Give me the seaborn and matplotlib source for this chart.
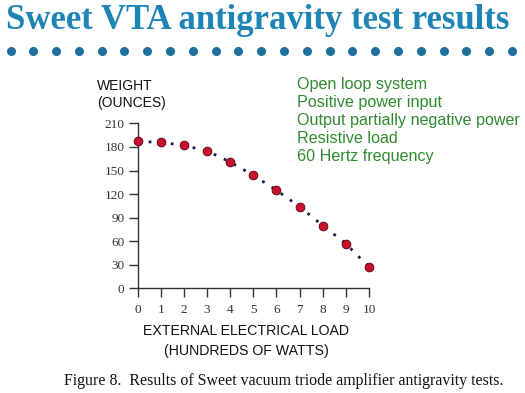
import numpy as np
import pandas as pd
import matplotlib
matplotlib.use('Agg')
import matplotlib.pyplot as plt
import seaborn as sns

# values
load = [0, 1, 2, 3, 4, 5, 6, 7, 8, 9, 10]          # hundreds of watts
weight = [187, 186, 182, 175, 161, 144, 125, 104, 80, 57, 27]  # ounces
y_ticks = [0, 30, 60, 90, 120, 150, 180, 210]
notes = ['Open loop system', 'Positive power input', 'Output partially negative power',
         'Resistive load', '60 Hertz frequency']

df = pd.DataFrame({'load': load, 'weight': weight})

sns.set_style('white')
plt.rcParams['font.family'] = ['Liberation Sans', 'DejaVu Sans']

fig = plt.figure(figsize=(5.25, 3.93), dpi=100)
ax = fig.add_axes([0.262, 0.266, 0.441, 0.42])

# dotted curve plus red markers
sns.lineplot(data=df, x='load', y='weight', ax=ax, color='#1b1b55',
             linestyle=(0, (1, 3)), linewidth=2.0, clip_on=False)
sns.scatterplot(data=df, x='load', y='weight', ax=ax, color='#c8102e',
                edgecolor='#5a0010', linewidth=0.6, s=40, zorder=5, clip_on=False)

ax.set_xlim(0, 10)
ax.set_ylim(0, 210)
ax.set_xticks(load)
ax.set_yticks(y_ticks)
for s in ['top', 'right']:
    ax.spines[s].set_visible(False)
for s in ['left', 'bottom']:
    ax.spines[s].set_color('#333333')
    ax.spines[s].set_linewidth(1.0)
ax.tick_params(axis='both', direction='out', length=6.5, width=1, color='#333333',
               labelsize=9.5, labelcolor='#333333', bottom=True, left=True)
ax.tick_params(axis='x', pad=5)
ax.tick_params(axis='y', pad=3)
for lab in ax.get_xticklabels() + ax.get_yticklabels():
    lab.set_family('Liberation Serif')
ax.set_xlabel('')
ax.set_ylabel('')

# axis labels as free text, like the slide
fig.text(0.185, 0.72, 'WEIGHT\n(OUNCES)', fontsize=10, color='#111111',
         ha='left', va='bottom', linespacing=1.3)
fig.text(0.469, 0.09, 'EXTERNAL ELECTRICAL LOAD\n(HUNDREDS OF WATTS)', fontsize=10.2,
         color='#111111', ha='center', va='bottom', linespacing=1.55)

# green notes
for i, n in enumerate(notes):
    fig.text(0.565, 0.785 - i * 0.0458, n, fontsize=11.6, color='#2e8b2e',
             ha='left', va='center')

# title and dotted rule
fig.text(0.49, 0.926, 'Sweet VTA antigravity test results', fontsize=25,
         fontweight='bold', family='Liberation Serif', color='#1d84b5',
         ha='center', va='baseline')
deco = fig.add_axes([0, 0.846, 1, 0.05])
deco.scatter(np.linspace(0.02, 0.975, 23), np.zeros(23), s=30, color='#1e6f9c')
deco.set_xlim(0, 1)
deco.set_ylim(-1, 1)
deco.axis('off')

# caption
fig.text(0.54, 0.03, 'Figure 8.  Results of Sweet vacuum triode amplifier antigravity tests.',
         fontsize=11.4, family='Liberation Serif', color='#111111', ha='center', va='center')

fig.savefig('out.png', dpi=100)
